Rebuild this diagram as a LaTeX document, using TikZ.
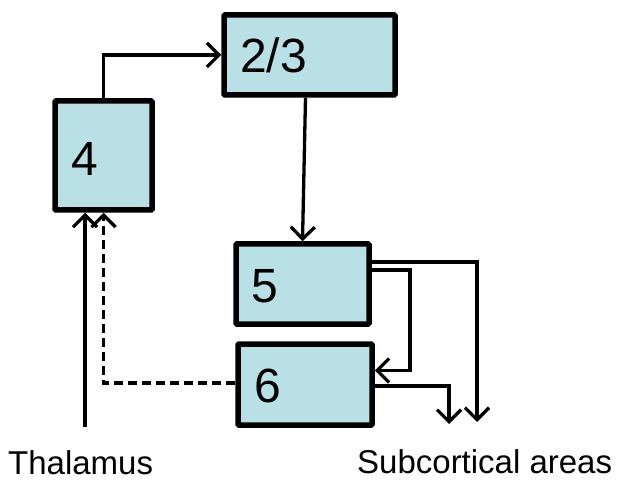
\documentclass[tikz,border=0pt]{standalone}
\usepackage{fontspec}
\setmainfont{Liberation Sans}
\usetikzlibrary{arrows.meta,calc}
\definecolor{boxfill}{RGB}{185,224,228}
\tikzset{
  layerbox/.style={draw=black, fill=boxfill, line width=5.5pt, rounded corners=1pt, inner sep=0pt},
  numtext/.style={anchor=base west, inner sep=0pt, font=\fontsize{48}{50}\selectfont},
  lbltext/.style={anchor=base west, inner sep=0pt, font=\fontsize{33}{36}\selectfont},
  conn/.style={line width=3.3pt, -{Straight Barb[length=12pt,width=24pt,line width=3.3pt]}},
  dashconn/.style={conn, dash pattern=on 9pt off 5pt}
}
\begin{document}
\begin{tikzpicture}[x=1pt,y=-1pt]
\useasboundingbox (0,0) rectangle (630,484);
% boxes
\node[layerbox, minimum width=97pt, minimum height=109pt] (b4) at (103.5,155.5) {};
\node[layerbox, minimum width=171pt, minimum height=80pt] (b23) at (309.5,55) {};
\node[layerbox, minimum width=133pt, minimum height=80pt] (b5) at (302.5,284) {};
\node[layerbox, minimum width=134pt, minimum height=81pt] (b6) at (305,384.5) {};
% texts
\node[numtext] (t4) at (71,176) {4};
\node[numtext] (t23) at (240,73) {2/3};
\node[numtext] (t5) at (251,302) {5};
\node[numtext] (t6) at (254,402) {6};
\node[lbltext] (thal) at (8,474) {Thalamus};
\node[lbltext] (sub) at (357,473) {Subcortical areas};
% helper coordinates
\coordinate (thalstart) at (85,427);
\coordinate (dashturn) at (103.5,383);
\coordinate (r56) at (410,270);
\coordinate (s5) at (477,422);
\coordinate (s6) at (449,424);
% connectors
\draw[conn] (b4.north) |- (b23.west);
\draw[conn] ([xshift=-4pt]b23.south) -- (b5.north);
\draw[conn] (b5.east |- r56) -| (r56) |- ([yshift=14pt]b6.east);
\draw[conn] ([yshift=22pt]b5.east) -| (s5);
\draw[conn] ([yshift=-1.5pt]b6.east) -| (s6);
\draw[conn] (thalstart) -- (thalstart |- b4.south);
\draw[dashconn] (b6.west |- dashturn) -- (dashturn) -- (b4.south);
\end{tikzpicture}
\end{document}
